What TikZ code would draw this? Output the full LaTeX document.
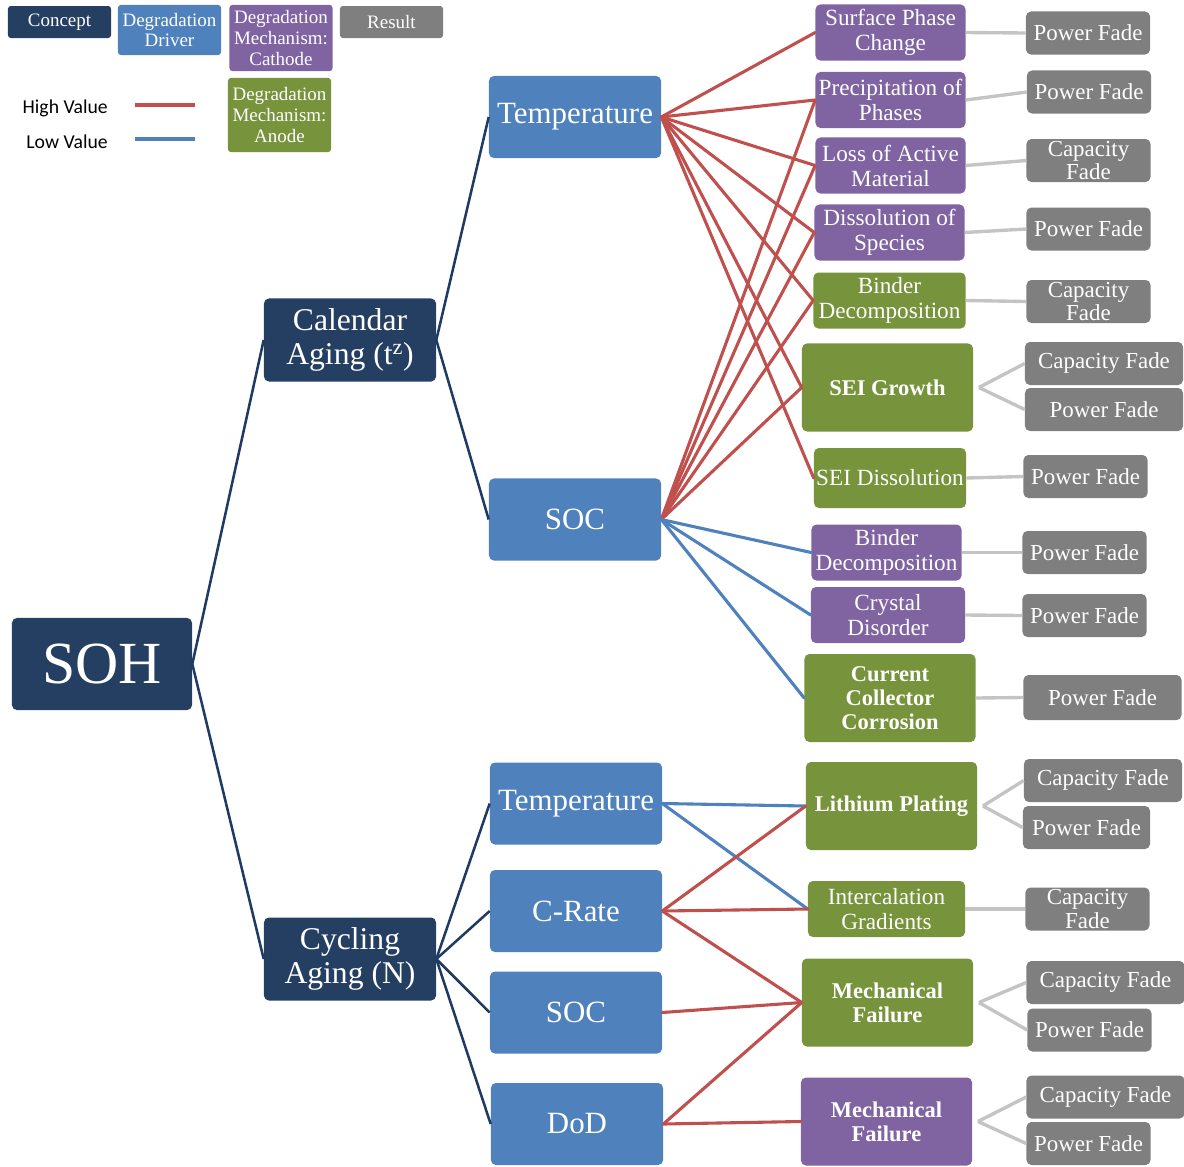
\documentclass[tikz,border=0pt]{standalone}
\usepackage{fontspec}
\setmainfont{Liberation Serif}
\newfontfamily\legendfont{Carlito}
\usepackage{tikz}

\definecolor{conceptblue}{HTML}{243F62}
\definecolor{driverblue}{HTML}{4F81BD}
\definecolor{cathodepurple}{HTML}{8064A2}
\definecolor{anodegreen}{HTML}{77933C}
\definecolor{resultgrey}{HTML}{7F7F7F}
\definecolor{highred}{HTML}{C0504D}
\definecolor{lowblue}{HTML}{4F81BD}
\definecolor{treeblue}{HTML}{1F3B63}
\definecolor{feedgrey}{HTML}{C4C4C4}

\tikzset{
  box/.style={rectangle, rounded corners=3.5pt, text=white, align=center, inner sep=1pt},
  concept/.style={box, fill=conceptblue, minimum width=4.3cm, minimum height=2.075cm,
    font=\fontsize{22.5}{24.5}\selectfont},
  driver/.style={box, fill=driverblue, minimum width=4.3cm, minimum height=2.05cm,
    font=\fontsize{22}{23}\selectfont},
  cathode/.style={box, fill=cathodepurple, minimum width=3.75cm, minimum height=1.4cm,
    font=\fontsize{16.5}{17.8}\selectfont},
  anode/.style={box, fill=anodegreen, minimum width=3.8cm, minimum height=1.4cm,
    font=\fontsize{16.5}{17.8}\selectfont},
  heavy/.style={minimum width=4.275cm, minimum height=2.2cm,
    font=\bfseries\fontsize{16}{17}\selectfont},
  result/.style={box, fill=resultgrey, minimum width=3.1cm, minimum height=1.075cm,
    font=\fontsize{16.3}{16.5}\selectfont},
  wide/.style={minimum width=3.95cm},
  key/.style={box, rounded corners=2pt, minimum width=2.575cm,
    font=\fontsize{13.5}{14.8}\selectfont},
  keytext/.style={anchor=east, inner sep=0pt, font=\legendfont\fontsize{14}{15}\selectfont},
  tree/.style={draw=treeblue, line width=1.8pt},
  high/.style={draw=highred, line width=2.2pt, line cap=round},
  low/.style={draw=lowblue, line width=2.2pt, line cap=round},
  feed/.style={draw=feedgrey, line width=2.4pt},
}

\begin{document}
\begin{tikzpicture}[x=0.025cm, y=-0.025cm]
\useasboundingbox (0,0) rectangle (1184,1166);

% legend
\node (kconcept) [key, fill=conceptblue, minimum height=0.8cm] at (59.5,22) {Concept};
\node (kdriver) [key, fill=driverblue, minimum height=1.25cm] at (169.5,30) {Degradation\\Driver};
\node (kcathode) [key, fill=cathodepurple, minimum height=1.65cm] at (281,38) {Degradation\\Mechanism:\\Cathode};
\node (kresult) [key, fill=resultgrey, minimum height=0.8cm] at (391.5,22) {Result};
\node (kanode) [key, fill=anodegreen, minimum height=1.85cm] at (279.5,115) {Degradation\\Mechanism:\\Anode};
\node (khigh) [keytext] at (108,108) {High Value};
\node (klow) [keytext] at (108,142) {Low Value};
\draw [high, line cap=butt] (135,105) -- (195,105);
\draw [low, line cap=butt] (135,139) -- (195,139);

% concepts and drivers
\node (soh) [concept, minimum width=4.5cm, minimum height=2.3cm, font=\fontsize{42.5}{43}\selectfont] at (102,664) {SOH};
\node (cal) [concept] at (350,340) {Calendar\\Aging (t\textsuperscript{z})};
\node (cyc) [concept] at (350,959) {Cycling\\Aging (N)};
\node (temp1) [driver] at (575,117) {Temperature};
\node (soc1) [driver] at (575,519.5) {SOC};
\node (temp2) [driver] at (576,803.5) {Temperature};
\node (crate) [driver] at (576,911) {C-Rate};
\node (soc2) [driver] at (576,1012.5) {SOC};
\node (dod) [driver] at (577,1124) {DoD};

% mechanisms
\node (surf) [cathode] at (890.5,32.5) {Surface Phase\\Change};
\node (prec) [cathode] at (890.5,100) {Precipitation of\\Phases};
\node (loss) [cathode] at (890.5,165.5) {Loss of Active\\Material};
\node (diss) [cathode] at (889.5,232.5) {Dissolution of\\Species};
\node (bindA) [anode] at (889.5,300.5) {Binder\\Decomposition};
\node (seig) [anode, heavy] at (887.5,387.5) {SEI Growth};
\node (seid) [anode, minimum height=1.5cm] at (890,478) {SEI Dissolution};
\node (bindC) [cathode] at (886.5,552.5) {Binder\\Decomposition};
\node (crys) [cathode, minimum width=3.85cm] at (888,615) {Crystal\\Disorder};
\node (corr) [anode, heavy] at (890,698) {Current\\Collector\\Corrosion};
\node (plat) [anode, heavy] at (891.5,806) {Lithium Plating};
\node (grad) [anode, minimum width=3.925cm] at (886.5,909) {Intercalation\\Gradients};
\node (mfA) [anode, heavy] at (887.5,1002.5) {Mechanical\\Failure};
\node (mfC) [cathode, heavy] at (886.5,1121.5) {Mechanical\\Failure};

% results
\node (r1) [result] at (1088,33) {Power Fade};
\node (r2) [result] at (1089,92) {Power Fade};
\node (r3) [result] at (1088.5,160.5) {Capacity\\Fade};
\node (r4) [result] at (1088.5,229) {Power Fade};
\node (r5) [result] at (1088.5,301.5) {Capacity\\Fade};
\node (r6a) [result, wide] at (1104,363.5) {Capacity Fade};
\node (r6b) [result, wide] at (1104,409.5) {Power Fade};
\node (r7) [result] at (1085.5,476.5) {Power Fade};
\node (r8) [result] at (1084.5,552.5) {Power Fade};
\node (r9) [result] at (1084.5,615.5) {Power Fade};
\node (r10) [result, wide, minimum height=1.125cm] at (1102.5,697.5) {Power Fade};
\node (r11a) [result, wide] at (1103,780.5) {Capacity Fade};
\node (r11b) [result, minimum width=3.175cm] at (1086.5,827.5) {Power Fade};
\node (r12) [result] at (1087.5,909) {Capacity\\Fade};
\node (r13a) [result, wide] at (1105.5,982.5) {Capacity Fade};
\node (r13b) [result] at (1089.5,1030) {Power Fade};
\node (r14a) [result, wide] at (1105.5,1097) {Capacity Fade};
\node (r14b) [result] at (1088.5,1143.5) {Power Fade};

% tree
\draw [tree] (soh.east) -- (cal.west);
\draw [tree] (soh.east) -- (cyc.west);
\draw [tree] (cal.east) -- (temp1.west);
\draw [tree] (cal.east) -- (soc1.west);
\draw [tree] (cyc.east) -- (temp2.west);
\draw [tree] (cyc.east) -- (crate.west);
\draw [tree] (cyc.east) -- (soc2.west);
\draw [tree] (cyc.east) -- (dod.west);

% calendar drivers
\foreach \m in {surf,prec,loss,diss,bindA,seig,seid}
  \draw [high] (temp1.east) -- (\m.west);
\foreach \m in {prec,loss,diss,bindA,seig}
  \draw [high] (soc1.east) -- (\m.west);
\foreach \m in {bindC,crys,corr}
  \draw [low] (soc1.east) -- (\m.west);

% cycling drivers
\draw [low] (temp2.east) -- (plat.west);
\draw [low] (temp2.east) -- (grad.west);
\draw [high] (crate.east) -- (plat.west);
\draw [high] (crate.east) -- (grad.west);
\draw [high] (crate.east) -- (mfA.west);
\draw [high] (soc2.east) -- (mfA.west);
\draw [high] (dod.east) -- (mfA.west);
\draw [high] (dod.east) -- (mfC.west);

% results
\draw [feed] (surf.east) -- (r1.west);
\draw [feed] (prec.east) -- (r2.west);
\draw [feed] (loss.east) -- (r3.west);
\draw [feed] (diss.east) -- (r4.west);
\draw [feed] (bindA.east) -- (r5.west);
\draw [feed] ([xshift=4pt]seig.east) -- (r6a.west);
\draw [feed] ([xshift=4pt]seig.east) -- (r6b.west);
\draw [feed] (seid.east) -- (r7.west);
\draw [feed] (bindC.east) -- (r8.west);
\draw [feed] (crys.east) -- (r9.west);
\draw [feed] (corr.east) -- (r10.west);
\draw [feed] ([xshift=4pt]plat.east) -- (r11a.west);
\draw [feed] ([xshift=4pt]plat.east) -- (r11b.west);
\draw [feed] (grad.east) -- (r12.west);
\draw [feed] ([xshift=4pt]mfA.east) -- (r13a.west);
\draw [feed] ([xshift=4pt]mfA.east) -- (r13b.west);
\draw [feed] ([xshift=4pt]mfC.east) -- (r14a.west);
\draw [feed] ([xshift=4pt]mfC.east) -- (r14b.west);
\end{tikzpicture}
\end{document}
